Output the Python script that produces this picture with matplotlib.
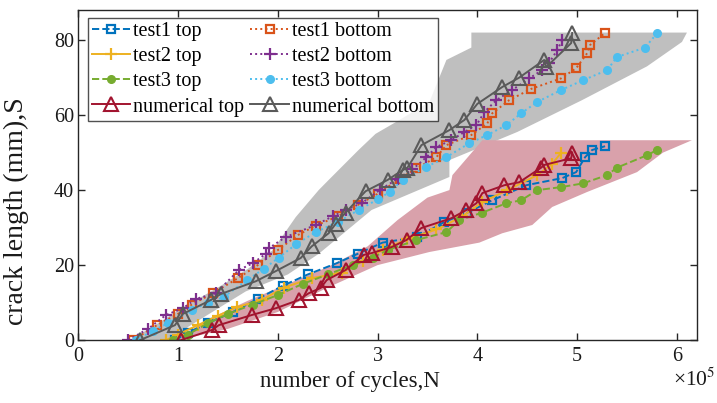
import numpy as np
import matplotlib
matplotlib.use("Agg")
import matplotlib.pyplot as plt

# ==========================================================
# DATA  (x in 1e5 cycles, y = crack length in mm)
# ==========================================================

t1_top_x = [0.97, 1.1, 1.3, 1.55, 1.8, 2.05, 2.3, 2.59, 2.8, 3.05, 3.4, 3.67, 3.9, 4.15, 4.49, 4.85, 4.99, 5.08, 5.15, 5.28]
t1_top_y = [0, 2, 4.5, 7.5, 11, 14.5, 17.5, 20.5, 23, 26, 27.5, 31.5, 34, 37.3, 41.3, 43.2, 44.8, 48.8, 50.7, 51.7]

t2_top_x = [0.88, 1.0, 1.2, 1.4, 1.59, 1.84, 2.06, 2.34, 2.64, 2.85, 3.05, 3.3, 3.59, 3.85, 4.05, 4.3, 4.6, 4.75, 4.84]
t2_top_y = [0, 1.5, 4, 6.5, 8.8, 10.7, 14, 16.5, 18, 21, 24, 27, 29.5, 33, 36.8, 40, 44, 47, 50]

t3_top_x = [0.95, 1.1, 1.3, 1.5, 1.75, 2.0, 2.25, 2.5, 2.75, 2.95, 3.1, 3.39, 3.69, 3.82, 4.05, 4.29, 4.44, 4.6, 4.84, 5.06, 5.3, 5.4, 5.7, 5.8]
t3_top_y = [0, 1.5, 4.5, 7, 9.5, 12, 15, 17.5, 20, 22, 24, 26.7, 28.8, 32, 34, 36.5, 37.3, 40, 40.8, 41.8, 44, 46, 49.3, 50.7]

num_top_x = [1.03, 1.34, 1.41, 1.74, 1.98, 2.21, 2.31, 2.43, 2.49, 2.68, 2.86, 2.94, 3.14, 3.29, 3.44, 3.74, 3.89, 3.99, 4.05, 4.27, 4.42, 4.64, 4.67, 4.94, 4.95]
num_top_y = [0, 2.7, 4, 6.7, 8.5, 10.7, 12.5, 13.9, 16, 18.7, 22.7, 23.2, 24.8, 26.7, 29.9, 32.5, 34.7, 36.5, 39.2, 41.3, 42.1, 46, 46.7, 48.5, 50]

t1_bot_x = [0.55, 0.79, 1.0, 1.14, 1.35, 1.6, 1.8, 2.0, 2.2, 2.38, 2.6, 2.8, 3.0, 3.22, 3.39, 3.59, 3.69, 3.94, 4.1, 4.15, 4.32, 4.54, 4.84, 4.99, 5.1, 5.13, 5.28]
t1_bot_y = [0, 4, 7, 9.5, 12.5, 16.5, 20, 24, 28, 30.5, 33, 36, 39, 43, 45.8, 48.8, 52, 54.7, 57.8, 60.5, 64, 67, 69.8, 72.5, 76.5, 78.7, 81.9]

t2_bot_x = [0.5, 0.7, 0.88, 1.05, 1.18, 1.38, 1.61, 1.75, 1.88, 1.91, 2.08, 2.38, 2.55, 2.68, 2.84, 3.02, 3.2, 3.35, 3.49, 3.59, 3.74, 3.87, 3.99, 4.07, 4.19, 4.35, 4.52, 4.65, 4.72, 4.8, 4.85]
t2_bot_y = [0, 3, 6.7, 8.5, 11, 12.5, 18.7, 20.5, 23, 24.5, 27.5, 30.7, 33, 34.7, 36.5, 40, 43, 45.5, 48.8, 51.5, 53.3, 55.5, 57.3, 60.8, 64, 66.7, 69.8, 72, 74, 77.3, 80]

t3_bot_x = [0.58, 0.75, 0.9, 1.14, 1.3, 1.46, 1.69, 1.86, 2.01, 2.18, 2.38, 2.6, 2.81, 3.0, 3.12, 3.25, 3.49, 3.69, 3.92, 4.1, 4.29, 4.44, 4.6, 4.84, 5.06, 5.3, 5.4, 5.68, 5.8]
t3_bot_y = [0, 2.5, 4.5, 8, 10, 11.5, 16, 19, 22, 25.5, 28.8, 31.5, 34.7, 37.5, 39.5, 42.7, 46.2, 48.8, 52.5, 54.7, 57.3, 60.5, 63.5, 66.7, 69.3, 72, 75.5, 78, 81.8]

num_bot_x = [0.62, 0.97, 1.05, 1.33, 1.43, 1.78, 1.98, 2.23, 2.34, 2.51, 2.58, 2.68, 2.88, 3.10, 3.25, 3.30, 3.44, 3.72, 3.87, 4.0, 4.25, 4.42, 4.67, 4.69, 4.94, 4.95]
num_bot_y = [0, 4, 7, 10.7, 12.3, 15.7, 18.4, 21.9, 25, 28.5, 31, 34, 39.7, 42.7, 45.3, 46, 52, 56, 58.7, 63, 67.5, 70, 74.7, 72.8, 79.2, 81.9]

# scatter bands (outline: upper edge left->right, then lower edge right->left)
gray_band_x = [0.52, 0.8, 1.1, 1.4, 1.7, 1.95, 2.18, 2.41, 2.51, 2.81, 2.98, 3.22, 3.52, 3.69, 3.94, 3.94, 6.1,
               6.05, 5.7, 5.05, 4.4, 3.72, 3.72, 2.94, 2.41, 2.1, 1.68, 1.1, 0.97]
gray_band_y = [0, 4.5, 9.5, 14, 19, 24, 32.8, 40, 42.7, 50.7, 55, 58.7, 63.5, 74.7, 78, 82, 82,
               79.5, 73, 64, 55.5, 48, 43.5, 34.7, 23, 17.5, 13, 3.5, 0]

pink_band_x = [0.97, 1.3, 1.7, 2.1, 2.5, 2.9, 3.2, 3.5, 3.72, 3.75, 4.05, 6.15,
               5.86, 5.6, 5.1, 4.75, 4.55, 4.25, 4.02, 3.52, 3.0, 2.5, 2.0, 1.5, 1.0]
pink_band_y = [0, 5.5, 10.5, 15, 19.5, 25, 32, 38, 40, 44, 53.3, 53.3,
               50, 44.8, 39.5, 35.5, 30.7, 28.5, 26, 23.5, 20, 14, 7.5, 3, 0]

# ==========================================================
# STYLE
# ==========================================================

plt.rcParams['font.family'] = ['Liberation Serif', 'DejaVu Serif']
plt.rcParams['mathtext.fontset'] = 'stix'

fig = plt.figure(figsize=(7.17, 4.03), dpi=100)
ax = fig.add_axes([0.109, 0.156, 0.863, 0.819])

ax.fill(gray_band_x, gray_band_y, color='#BFBFBF', lw=0, zorder=1)
ax.fill(pink_band_x, pink_band_y, color='#D9A1AB', lw=0, zorder=1)

lw = 1.4
h1, = ax.plot(t1_top_x, t1_top_y, '--', color='#0072BD', marker='s', ms=6, mfc='none', mew=1.6, lw=lw, label='test1 top')
h2, = ax.plot(t2_top_x, t2_top_y, '-', color='#EDB120', marker='+', ms=9, mew=1.6, lw=lw, label='test2 top')
h3, = ax.plot(t3_top_x, t3_top_y, '--', color='#77AC30', marker='o', ms=5.5, mew=1, lw=lw, label='test3 top')
h5, = ax.plot(t1_bot_x, t1_bot_y, ':', color='#D95319', marker='s', ms=6, mfc='none', mew=1.6, lw=lw, label='test1 bottom')
h6, = ax.plot(t2_bot_x, t2_bot_y, ':', color='#7E2F8E', marker='+', ms=9, mew=1.6, lw=lw, label='test2 bottom')
h7, = ax.plot(t3_bot_x, t3_bot_y, ':', color='#4DBEEE', marker='o', ms=5.5, mew=1, lw=lw, label='test3 bottom')
h4, = ax.plot(num_top_x, num_top_y, '-', color='#A2142F', marker='^', ms=9.5, mfc='none', mew=1.5, lw=lw, label='numerical top')
h8, = ax.plot(num_bot_x, num_bot_y, '-', color='#5A5A5A', marker='^', ms=9.5, mfc='none', mew=1.5, lw=lw, label='numerical bottom')

ax.set_xlim(0, 6.2)
ax.set_ylim(0, 88)
ax.set_xticks([0, 1, 2, 3, 4, 5, 6])
ax.set_yticks([0, 20, 40, 60, 80])

for s in ax.spines.values():
    s.set_color('#262626')
    s.set_linewidth(1.0)
ax.tick_params(direction='in', top=True, right=True, length=5, width=1,
               color='#262626', labelsize=14.5, labelcolor='#1a1a1a')
ax.tick_params(axis='x', pad=5)
ax.tick_params(axis='y', pad=3)

ax.set_xlabel('number of cycles,N', fontsize=16.5, color='#1a1a1a')
ax.set_ylabel('crack length (mm),S', fontsize=20, color='#1a1a1a')
ax.xaxis.set_label_coords(0.44, -0.095)
ax.yaxis.set_label_coords(-0.08, 0.39)

fig.text(0.998, 0.03, r'×10$^5$', fontsize=15.5, ha='right', va='bottom', color='#1a1a1a')

leg = ax.legend(handles=[h1, h2, h3, h4, h5, h6, h7, h8], ncol=2, loc='upper left',
                bbox_to_anchor=(0.016, 0.976), fontsize=14.5, frameon=True, fancybox=False,
                handlelength=1.9, handletextpad=0.15, columnspacing=0.3,
                labelspacing=0.3, borderpad=0.2, borderaxespad=0)
leg.get_frame().set_edgecolor('#262626')
leg.get_frame().set_linewidth(1.0)
leg.set_zorder(5)

fig.savefig('out.png', dpi=100)
